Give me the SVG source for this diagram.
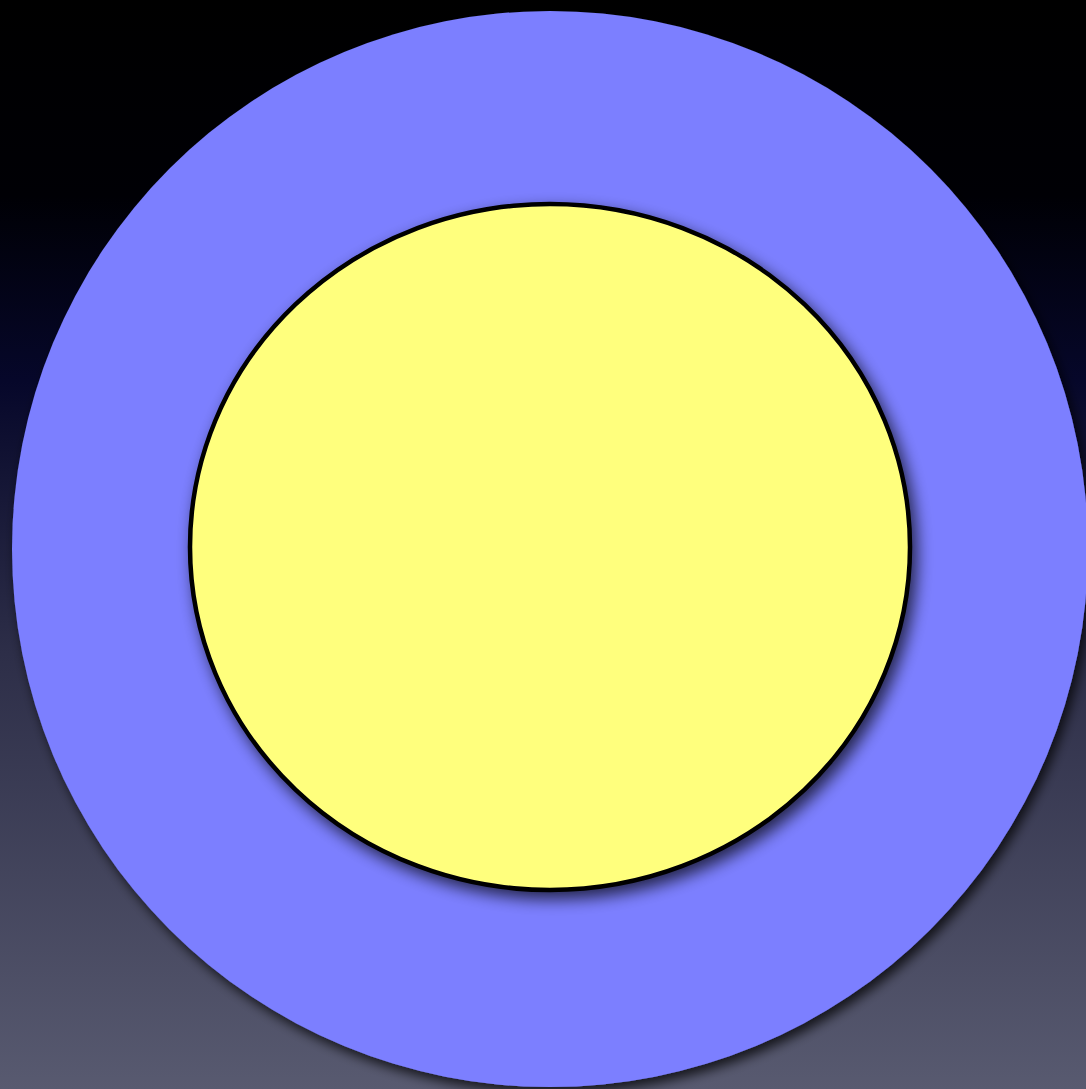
<svg xmlns="http://www.w3.org/2000/svg" width="1086" height="1089" viewBox="0 0 1086 1089">
<defs>
<linearGradient id="bg" x1="0" y1="0" x2="0" y2="1">
<stop offset="0" stop-color="#000000"/>
<stop offset="0.18" stop-color="#000005"/>
<stop offset="0.35" stop-color="#06072a"/>
<stop offset="0.6" stop-color="#2d2e48"/>
<stop offset="1" stop-color="#585a70"/>
</linearGradient>
<filter id="sh" x="-10%" y="-10%" width="120%" height="120%">
<feDropShadow dx="4" dy="6" stdDeviation="6" flood-color="#000" flood-opacity="0.75"/>
</filter>
<filter id="sh2" x="-10%" y="-10%" width="120%" height="120%">
<feDropShadow dx="5" dy="7" stdDeviation="8" flood-color="#000" flood-opacity="0.7"/>
</filter>
</defs>
<style>
.outer{fill:#7b7fff;}
.inner{fill:#ffff7d;stroke:#000;stroke-width:4.5;}
</style>
<rect x="0" y="0" width="1086" height="1089" fill="url(#bg)"/>
<g id="outer-circle">
<circle class="outer" cx="550" cy="549" r="538" filter="url(#sh)"/>
</g>
<g id="inner-ellipse">
<ellipse class="inner" cx="550" cy="547" rx="360" ry="343" filter="url(#sh2)"/>
</g>
<g id="connectors"></g>
</svg>
